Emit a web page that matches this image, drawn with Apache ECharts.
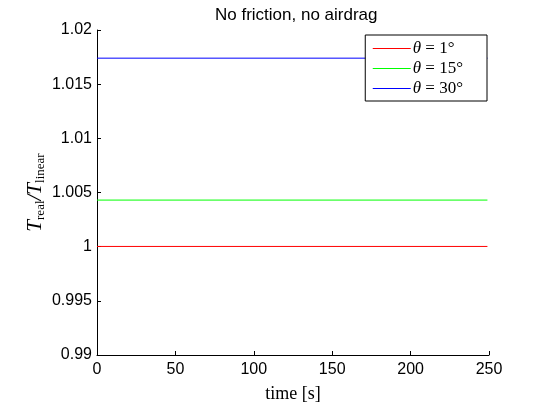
<!DOCTYPE html>
<html>
<head>
<meta charset="utf-8">
<script src="https://cdn.jsdelivr.net/npm/echarts@6/dist/echarts.min.js"></script>
<style>
  html, body { margin: 0; padding: 0; background: #fff; }
</style>
</head>
<body>
<!-- chart area -->
<div id="main" style="width: 540px;height:404px;"></div>
<script>
var time = [0, 249];
var ratio1 = [1.00002, 1.00002];
var ratio15 = [1.0043, 1.0043];
var ratio30 = [1.0174, 1.0174];
var angles = ['1', '15', '30'];
var colors = ['#ff0000', '#00ff00', '#0000ff'];

var chartDom = document.getElementById('main');
var myChart = echarts.init(chartDom);
var option;

function pairs(ys) {
  return time.map(function (t, i) { return [t, ys[i]]; });
}

var serif = '"Liberation Serif", "DejaVu Serif", serif';
var sans = '"Liberation Sans", Arial, sans-serif';
var ratios = [ratio1, ratio15, ratio30];

option = {
  animation: false,
  backgroundColor: '#fff',
  title: {
    text: 'No friction, no airdrag',
    left: 210,
    top: 2,
    textStyle: { fontFamily: sans, fontSize: 17, fontWeight: 'normal', color: '#000' }
  },
  grid: { left: 97, right: 51, top: 30, bottom: 49, outerBoundsMode: 'none' },
  legend: {
    right: 53,
    top: 35,
    orient: 'vertical',
    itemWidth: 38,
    itemHeight: 14,
    itemGap: 3,
    padding: [5, 24, 4, 7],
    backgroundColor: '#fff',
    borderColor: '#000',
    borderWidth: 1,
    borderRadius: 0,
    itemStyle: { opacity: 0 },
    lineStyle: { width: 1 },
    data: angles.map(function (a) { return 'θ' + a; }),
    formatter: function (name) {
      return '{i|θ}{t| = ' + name.slice(1) + '°}';
    },
    textStyle: {
      padding: [0, 0, 0, -3],
      rich: {
        i: { fontFamily: serif, fontStyle: 'italic', fontSize: 17, lineHeight: 17, color: '#000' },
        t: { fontFamily: serif, fontSize: 17, lineHeight: 17, color: '#000' }
      }
    }
  },
  xAxis: {
    type: 'value',
    min: 0,
    max: 250,
    interval: 50,
    name: 'time [s]',
    nameLocation: 'middle',
    nameGap: 30,
    nameMoveOverlap: false,
    nameTextStyle: { fontFamily: serif, fontSize: 18, color: '#000' },
    axisLine: { lineStyle: { color: '#000', width: 1 } },
    axisTick: { inside: true, length: 4, lineStyle: { color: '#000' } },
    axisLabel: { margin: 7, fontFamily: sans, fontSize: 16, color: '#000' },
    splitLine: { show: false }
  },
  yAxis: {
    type: 'value',
    min: 0.99,
    max: 1.02,
    interval: 0.005,
    name: '{i|T}{s|real}{n|/}{i|T}{s|linear}',
    nameLocation: 'middle',
    nameGap: 50,
    nameMoveOverlap: false,
    nameTextStyle: {
      rich: {
        i: { fontFamily: serif, fontStyle: 'italic', fontSize: 21, color: '#000' },
        n: { fontFamily: serif, fontStyle: 'italic', fontSize: 21, color: '#000' },
        s: { fontFamily: serif, fontSize: 13, color: '#000', padding: [10, 0, 0, 0] }
      }
    },
    axisLine: { show: true, lineStyle: { color: '#000', width: 1 } },
    axisTick: { show: true, inside: true, length: 4, lineStyle: { color: '#000' } },
    axisLabel: {
      margin: 5,
      fontFamily: sans,
      fontSize: 16,
      color: '#000',
      formatter: function (v) { return String(parseFloat(v.toFixed(4))); }
    },
    splitLine: { show: false }
  },
  series: ratios.map(function (r, i) {
    return {
      name: 'θ' + angles[i],
      type: 'line',
      symbol: 'none',
      data: pairs(r),
      lineStyle: { color: colors[i], width: 1 },
      itemStyle: { color: colors[i] }
    };
  })
};

option && myChart.setOption(option);
</script>
</body>
</html>
